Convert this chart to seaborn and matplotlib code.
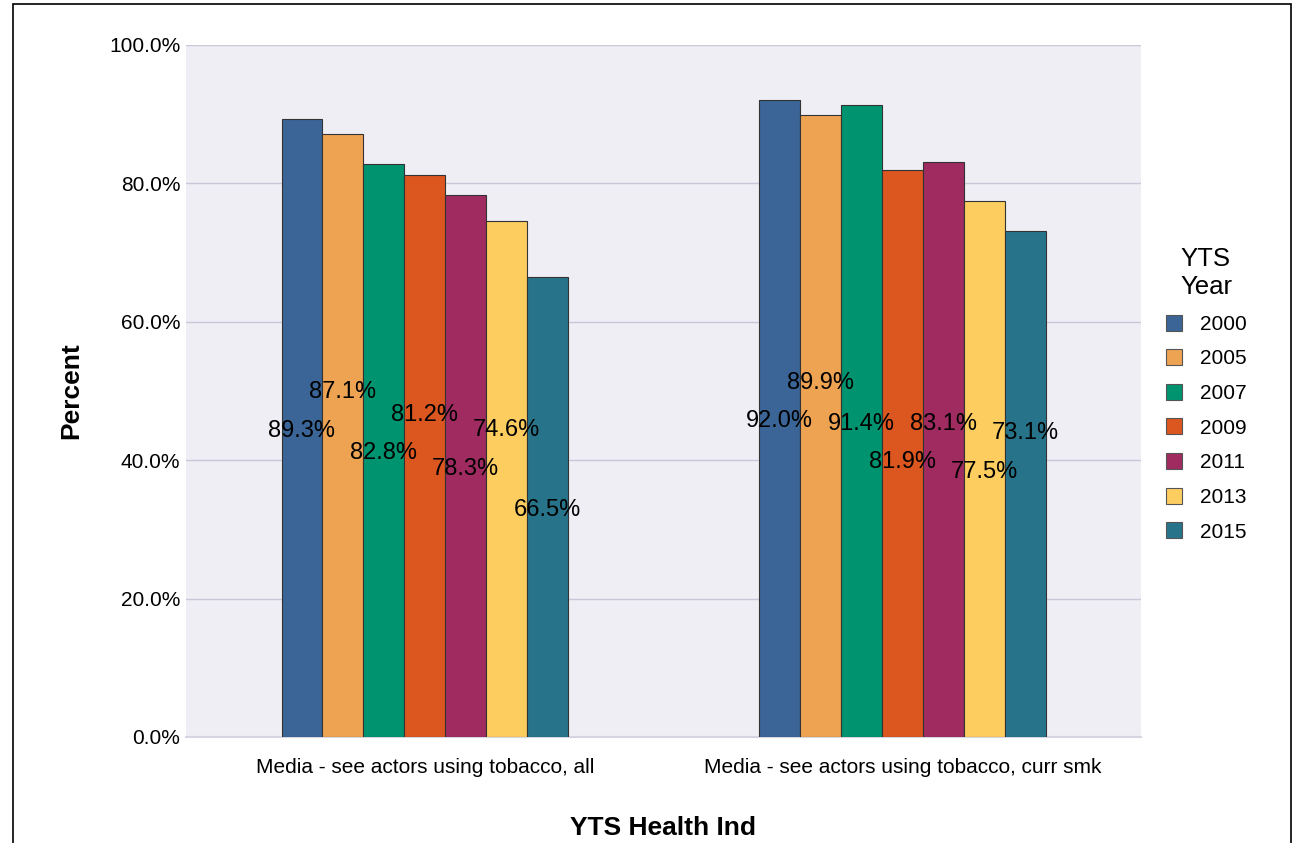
import matplotlib
matplotlib.use('Agg')
import matplotlib.pyplot as plt
import matplotlib.patches as mpatches
from matplotlib.ticker import FuncFormatter
import seaborn as sns
import pandas as pd
import numpy as np

# Daten
indicators = ['Media - see actors using tobacco, all',
              'Media - see actors using tobacco, curr smk']
years = ['2000', '2005', '2007', '2009', '2011', '2013', '2015']
pct_all = [89.3, 87.1, 82.8, 81.2, 78.3, 74.6, 66.5]
pct_curr = [92.0, 89.9, 91.4, 81.9, 83.1, 77.5, 73.1]

year_colors = ['#3A6596', '#EEA353', '#00936F', '#DC5620',
               '#A02B61', '#FDCD60', '#27748A']

# Label-Verschiebung (Kollisionen vermeiden): +1 hoch, -1 runter, 0 Mitte
label_nudge = [[0, 1, 0, 1, 0, 1, 0],
               [0, 1, 0, -1, 1, 0, 1]]
gap = 5.6

df = pd.DataFrame({
    'indicator': np.repeat(indicators, len(years)),
    'year': years * 2,
    'pct': pct_all + pct_curr,
})

sns.set_theme(style='white')
plt.rcParams['font.family'] = ['Liberation Sans', 'DejaVu Sans']
plt.rcParams['text.color'] = 'black'
plt.rcParams['axes.labelcolor'] = 'black'

fig = plt.figure(figsize=(12.97, 8.43), dpi=100)
ax = fig.add_axes([186 / 1297, 1 - 737 / 843, (1141 - 186) / 1297, (737 - 45) / 843])
ax.set_facecolor('#EFEEF4')

sns.barplot(data=df, x='indicator', y='pct', hue='year', hue_order=years,
            palette=year_colors, saturation=1, width=0.6, dodge=True,
            edgecolor='#333333', linewidth=0.8, errorbar=None, ax=ax, zorder=3)

ax.set_xlim(-0.5, 1.5)
ax.set_ylim(0, 100)
ax.set_yticks(np.arange(0, 101, 20))
ax.yaxis.set_major_formatter(FuncFormatter(lambda v, p: f'{v:.1f}%'))
ax.grid(axis='y', color='#C9C8DA', linewidth=1, zorder=0)
ax.set_axisbelow(True)
for s in ['top', 'right', 'left']:
    ax.spines[s].set_visible(False)
ax.spines['bottom'].set_color('#D6D5E2')
ax.spines['bottom'].set_linewidth(1.5)
ax.tick_params(axis='both', length=0, labelsize=15, colors='black', pad=4)
ax.tick_params(axis='x', pad=15)

ax.set_xlabel('YTS Health Ind', fontsize=19, fontweight='bold', labelpad=28)
ax.set_ylabel('Percent', fontsize=19, fontweight='bold', labelpad=19)

# Werte-Labels mittig, mit Verschiebung
for g in range(len(indicators)):
    prev_y = None
    for i, cont in enumerate(ax.containers):
        bar = cont.patches[g]
        h = bar.get_height()
        y = h / 2
        if label_nudge[g][i] != 0 and prev_y is not None:
            y = prev_y + label_nudge[g][i] * gap
        prev_y = y
        ax.text(bar.get_x() + bar.get_width() / 2, y - 0.4, f'{h:.1f}%',
                ha='center', va='center', fontsize=17, color='black', zorder=5)

handles = [mpatches.Patch(facecolor=c, edgecolor='#555555', linewidth=0.8)
           for c in year_colors]
leg = ax.legend(handles, years, title='YTS\nYear', loc='center left',
                bbox_to_anchor=(1.017, 0.495), frameon=False, fontsize=15,
                title_fontsize=18.5, handlelength=0.8, handleheight=0.8,
                labelspacing=0.74, handletextpad=0.85, borderaxespad=0)
leg._legend_box.align = 'center'

# Rahmen um die Grafik
fig.patches.append(mpatches.Rectangle((13 / 1297, -0.01), (1291 - 13) / 1297, 1 - 4 / 843 + 0.01,
                                      transform=fig.transFigure, fill=False,
                                      edgecolor='black', linewidth=1.2))

fig.savefig('out.png', dpi=100)
